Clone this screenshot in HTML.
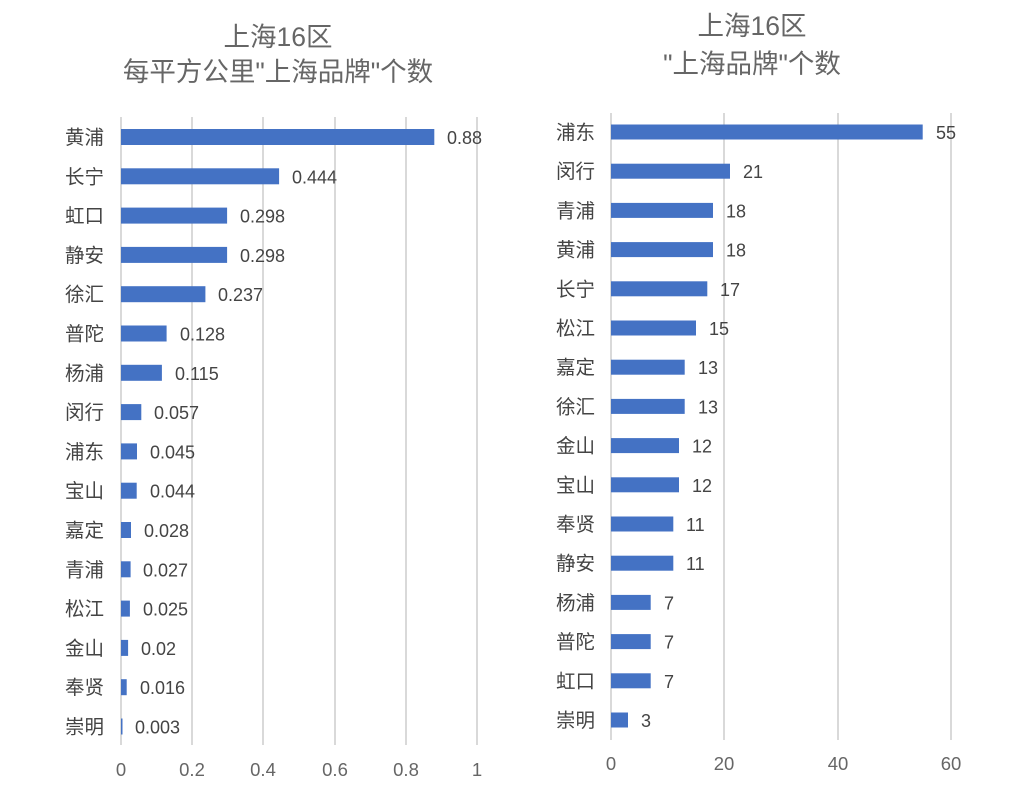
<!DOCTYPE html>
<html><head><meta charset="utf-8"><style>
html,body{margin:0;padding:0;background:#fff}
svg text{font-family:"Liberation Sans","Noto Sans CJK SC",sans-serif}
</style></head><body>
<svg width="1024" height="782" viewBox="0 0 1024 782" xmlns="http://www.w3.org/2000/svg">
<g fill="#666" font-size="26.5" text-anchor="middle">
<text x="278" y="46">上海16区</text>
<text x="278" y="81">每平方公里"上海品牌"个数</text>
<text x="752" y="35">上海16区</text>
<text x="752" y="73">"上海品牌"个数</text>
</g>
<g stroke="#d9d9d9" stroke-width="2">
<line x1="121" y1="117" x2="121" y2="745"/><line x1="192" y1="117" x2="192" y2="745"/><line x1="263" y1="117" x2="263" y2="745"/><line x1="335" y1="117" x2="335" y2="745"/><line x1="406" y1="117" x2="406" y2="745"/><line x1="477" y1="117" x2="477" y2="745"/>
<line x1="611" y1="113" x2="611" y2="740"/><line x1="724" y1="113" x2="724" y2="740"/><line x1="838" y1="113" x2="838" y2="740"/><line x1="951" y1="113" x2="951" y2="740"/>
</g>
<g fill="#666" font-size="18.5" text-anchor="middle">
<text x="121" y="776">0</text><text x="192" y="776">0.2</text><text x="263" y="776">0.4</text><text x="335" y="776">0.6</text><text x="406" y="776">0.8</text><text x="477" y="776">1</text>
<text x="611" y="770">0</text><text x="724" y="770">20</text><text x="838" y="770">40</text><text x="951" y="770">60</text>
</g>
<g fill="#4472c4">
<rect x="121" y="129" width="313.3" height="16"/>
<rect x="121" y="168.3" width="158.1" height="16"/>
<rect x="121" y="207.6" width="106.1" height="16"/>
<rect x="121" y="246.9" width="106.1" height="16"/>
<rect x="121" y="286.2" width="84.4" height="16"/>
<rect x="121" y="325.5" width="45.6" height="16"/>
<rect x="121" y="364.8" width="40.9" height="16"/>
<rect x="121" y="404.1" width="20.3" height="16"/>
<rect x="121" y="443.4" width="16" height="16"/>
<rect x="121" y="482.7" width="15.7" height="16"/>
<rect x="121" y="522" width="10" height="16"/>
<rect x="121" y="561.3" width="9.6" height="16"/>
<rect x="121" y="600.6" width="8.9" height="16"/>
<rect x="121" y="639.9" width="7.1" height="16"/>
<rect x="121" y="679.2" width="5.7" height="16"/>
<rect x="121" y="718.5" width="1.5" height="16"/>
<rect x="611" y="124.5" width="311.7" height="15"/>
<rect x="611" y="163.7" width="119" height="15"/>
<rect x="611" y="202.9" width="102" height="15"/>
<rect x="611" y="242.1" width="102" height="15"/>
<rect x="611" y="281.3" width="96.3" height="15"/>
<rect x="611" y="320.5" width="85" height="15"/>
<rect x="611" y="359.7" width="73.7" height="15"/>
<rect x="611" y="398.9" width="73.7" height="15"/>
<rect x="611" y="438.1" width="68" height="15"/>
<rect x="611" y="477.3" width="68" height="15"/>
<rect x="611" y="516.5" width="62.3" height="15"/>
<rect x="611" y="555.7" width="62.3" height="15"/>
<rect x="611" y="594.9" width="39.7" height="15"/>
<rect x="611" y="634.1" width="39.7" height="15"/>
<rect x="611" y="673.3" width="39.7" height="15"/>
<rect x="611" y="712.5" width="17" height="15"/>
</g>
<g fill="#444" font-size="19.5" text-anchor="end">
<text x="104" y="144">黄浦</text><text x="104" y="183.3">长宁</text><text x="104" y="222.6">虹口</text><text x="104" y="261.9">静安</text><text x="104" y="301.2">徐汇</text><text x="104" y="340.5">普陀</text><text x="104" y="379.8">杨浦</text><text x="104" y="419.1">闵行</text><text x="104" y="458.4">浦东</text><text x="104" y="497.7">宝山</text><text x="104" y="537">嘉定</text><text x="104" y="576.3">青浦</text><text x="104" y="615.6">松江</text><text x="104" y="654.9">金山</text><text x="104" y="694.2">奉贤</text><text x="104" y="733.5">崇明</text>
<text x="595" y="139">浦东</text><text x="595" y="178.2">闵行</text><text x="595" y="217.4">青浦</text><text x="595" y="256.6">黄浦</text><text x="595" y="295.8">长宁</text><text x="595" y="335">松江</text><text x="595" y="374.2">嘉定</text><text x="595" y="413.4">徐汇</text><text x="595" y="452.6">金山</text><text x="595" y="491.8">宝山</text><text x="595" y="531">奉贤</text><text x="595" y="570.2">静安</text><text x="595" y="609.4">杨浦</text><text x="595" y="648.6">普陀</text><text x="595" y="687.8">虹口</text><text x="595" y="727">崇明</text>
</g>
<g fill="#444" font-size="18">
<text x="447" y="144">0.88</text><text x="292" y="183.3">0.444</text><text x="240" y="222.6">0.298</text><text x="240" y="261.9">0.298</text><text x="218" y="301.2">0.237</text><text x="180" y="340.5">0.128</text><text x="175" y="379.8">0.115</text><text x="154" y="419.1">0.057</text><text x="150" y="458.4">0.045</text><text x="150" y="497.7">0.044</text><text x="144" y="537">0.028</text><text x="143" y="576.3">0.027</text><text x="143" y="615.6">0.025</text><text x="141" y="654.9">0.02</text><text x="140" y="694.2">0.016</text><text x="135" y="733.5">0.003</text>
<text x="936" y="139">55</text><text x="743" y="178.2">21</text><text x="726" y="217.4">18</text><text x="726" y="256.6">18</text><text x="720" y="295.8">17</text><text x="709" y="335">15</text><text x="698" y="374.2">13</text><text x="698" y="413.4">13</text><text x="692" y="452.6">12</text><text x="692" y="491.8">12</text><text x="686" y="531">11</text><text x="686" y="570.2">11</text><text x="664" y="609.4">7</text><text x="664" y="648.6">7</text><text x="664" y="687.8">7</text><text x="641" y="727">3</text>
</g>
</svg>
</body></html>
